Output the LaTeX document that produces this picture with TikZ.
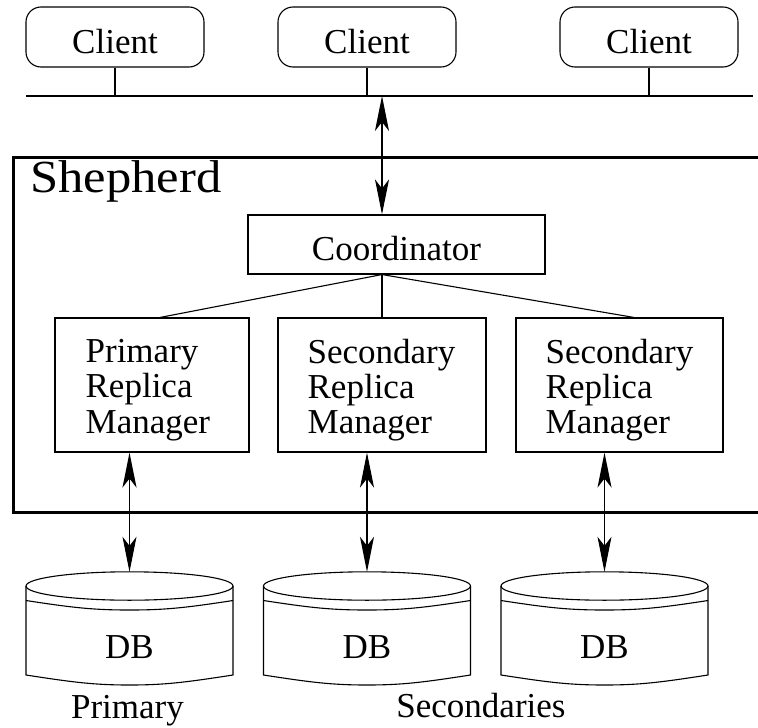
\documentclass[tikz,border=0pt]{standalone}
\usepackage{fontspec}
\setmainfont{Liberation Serif}
\usepackage{graphicx}
\usetikzlibrary{arrows.meta}
\tikzset{
  ln/.style={line width=1.1pt},
  bighead/.tip={Stealth[length=35pt,width=14pt,inset=9pt]},
  dbl/.style={ln, bighead-bighead},
  clientbox/.style={draw, ln, rounded corners=15pt, minimum width=178pt, minimum height=60pt, inner sep=0pt,
    font=\fontsize{35}{36}\selectfont, text height=32pt, text depth=0pt},
  coordbox/.style={draw, ln, minimum width=297pt, minimum height=59pt, inner sep=0pt,
    font=\fontsize{35}{36}\selectfont, text height=32pt, text depth=0pt},
  rmbox/.style={draw, ln, minimum height=134pt, inner sep=0pt},
  rmtext/.style={align=left, inner sep=0pt, font=\fontsize{35}{35.3}\selectfont, anchor=west},
  dbtext/.style={inner sep=0pt, font=\fontsize{35}{36}\selectfont},
  lbl/.style={inner sep=0pt, font=\fontsize{35}{36}\selectfont, anchor=base},
  shepframe/.style={draw, line width=3.3pt, inner sep=0pt, anchor=north west}
}
\begin{document}
\begin{tikzpicture}[x=1pt,y=-1pt]
\useasboundingbox (0,0) rectangle (758,728);
\fill[white] (0,0) rectangle (758,728);
\clip (0,0) rectangle (758,728);
% clients and bus
\node[clientbox] (c1) at (115,37) {Client};
\node[clientbox] (c2) at (367,37) {Client};
\node[clientbox] (c3) at (649,37) {Client};
\coordinate (busL) at (26,96);
\coordinate (busR) at (753,96);
\draw[ln] (busL) -- (busR);
\foreach \c in {c1,c2,c3} \draw[ln] (\c.south) -- (\c.south |- busL);
% shepherd frame
\node[shepframe, minimum width=800pt, minimum height=355.1pt] (shep) at (11.7,155.7) {};
\node[inner sep=0pt, anchor=base west, font=\fontsize{46}{50}\selectfont] (sheplbl) at (30,192.5) {\scalebox{1.1}[1]{Shepherd}};
% coordinator
\node[coordbox] (coord) at (396.5,244.5) {Coordinator};
\coordinate (busJ) at (382,96);
\draw[dbl] (busJ) -- (busJ |- coord.north);
% replica managers
\node[rmbox, minimum width=194pt] (rm1) at (152,385) {};
\node[rmbox, minimum width=208pt] (rm2) at (382,385) {};
\node[rmbox, minimum width=207pt] (rm3) at (619.5,385) {};
\node[rmtext] (rm1t) at ([xshift=31pt,yshift=-5pt]rm1.west) {Primary\\Replica\\Manager};
\node[rmtext] (rm2t) at ([xshift=30pt,yshift=-5pt]rm2.west) {Secondary\\Replica\\Manager};
\node[rmtext] (rm3t) at ([xshift=30pt,yshift=-5pt]rm3.west) {Secondary\\Replica\\Manager};
\coordinate (cj) at (rm2.north |- coord.south);
\draw[ln] (cj) -- ([xshift=8pt]rm1.north);
\draw[ln] (cj) -- (rm2.north);
\draw[ln] (cj) -- ([xshift=14.5pt]rm3.north);
% databases
\foreach \n/\x in {db1/129.5, db2/367, db3/604.5} {
  \node[dbtext] (\n) at (\x,647.5) {DB};
  \begin{scope}[shift={(\n.center)}]
    \draw[ln] (0,-61.5) ellipse [x radius=103.5, y radius=14.2];
    \draw[ln] (-103.5,-61.5) -- (-103.5,27.5)
      .. controls (-55,35) and (-35,37.5) .. (0,37.5)
      .. controls (35,37.5) and (55,35) .. (103.5,27.5) -- (103.5,-61.5);
    \draw[ln] (-103.5,-47) .. controls (-55,-39.5) and (-35,-37.5) .. (0,-37.5)
      .. controls (35,-37.5) and (55,-39.5) .. (103.5,-47);
    \coordinate (\n-top) at (0,-75.7);
  \end{scope}
}
\draw[dbl] (db1-top) -- (db1-top |- rm1.south);
\draw[dbl] (db2-top) -- (db2-top |- rm2.south);
\draw[dbl] (db3-top) -- (db3-top |- rm3.south);
% labels
\node[lbl] (primlbl) at (127.5,718.5) {Primary};
\node[lbl] (seclbl) at (481,717) {Secondaries};
\end{tikzpicture}
\end{document}
